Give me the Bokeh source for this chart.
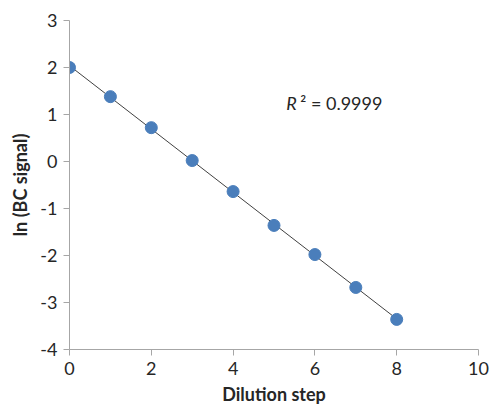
import numpy as np
from bokeh.plotting import figure
from bokeh.models import Range1d, FixedTicker
from bokeh.core.properties import value
from bokeh.embed import file_html
from bokeh.resources import INLINE

dilution_step = [0, 1, 2, 3, 4, 5, 6, 7, 8]
ln_bc_signal = [2.0, 1.38, 0.72, 0.02, -0.64, -1.36, -1.98, -2.68, -3.36]
x_ticks = [0, 2, 4, 6, 8, 10]
y_ticks = [-4, -3, -2, -1, 0, 1, 2, 3]
r2_label = "0.9999"

slope, intercept = np.polyfit(dilution_step, ln_bc_signal, 1)
fit_x = [min(dilution_step), max(dilution_step)]
fit_y = [slope * xv + intercept for xv in fit_x]

p = figure(width=491, height=408, output_backend="svg", toolbar_location=None,
           x_range=Range1d(0, 10), y_range=Range1d(-4, 3),
           min_border_left=69, min_border_right=13, min_border_top=20, min_border_bottom=59)
p.outline_line_color = None
p.xgrid.visible = False
p.ygrid.visible = False

FONT = "Lato"
AX = "#A6A6A6"
for ax in (p.xaxis, p.yaxis):
    ax.axis_line_color = AX
    ax.major_tick_line_color = AX
    ax.minor_tick_line_color = None
    ax.major_tick_out = 6
    ax.major_tick_in = 0
    ax.major_label_text_font = FONT
    ax.major_label_text_font_size = "18px"
    ax.major_label_text_color = "#262626"
    ax.axis_label_text_font = FONT
    ax.axis_label_text_font_size = "18px"
    ax.axis_label_text_font_style = "bold"
    ax.axis_label_text_color = "#262626"
p.xaxis.ticker = FixedTicker(ticks=x_ticks)
p.yaxis.ticker = FixedTicker(ticks=y_ticks)
p.yaxis.major_label_overrides = {t: str(t) for t in y_ticks}
p.xaxis.axis_label = "Dilution step"
p.yaxis.axis_label = "ln (BC signal)"
p.xaxis.axis_label_standoff = 5
p.yaxis.axis_label_standoff = 6
p.xaxis.major_label_standoff = 6
p.yaxis.major_label_standoff = 6

p.line(fit_x, fit_y, line_color="#404040", line_width=1)
p.scatter(dilution_step, ln_bc_signal, size=12, fill_color="#4A7EBB",
          line_color="#4A7EBB", line_width=1)

p.text(x=[5.3], y=[1.25], text=["R"], text_font=value(FONT), text_font_style="italic",
       text_font_size="18px", text_color="#262626", text_baseline="alphabetic")
p.text(x=[5.3], y=[1.25], text=["\u00b2 = " + r2_label], x_offset=14, text_font=value(FONT),
       text_font_size="18px", text_color="#262626", text_baseline="alphabetic")

open("out.html", "w").write(file_html(p, INLINE))
